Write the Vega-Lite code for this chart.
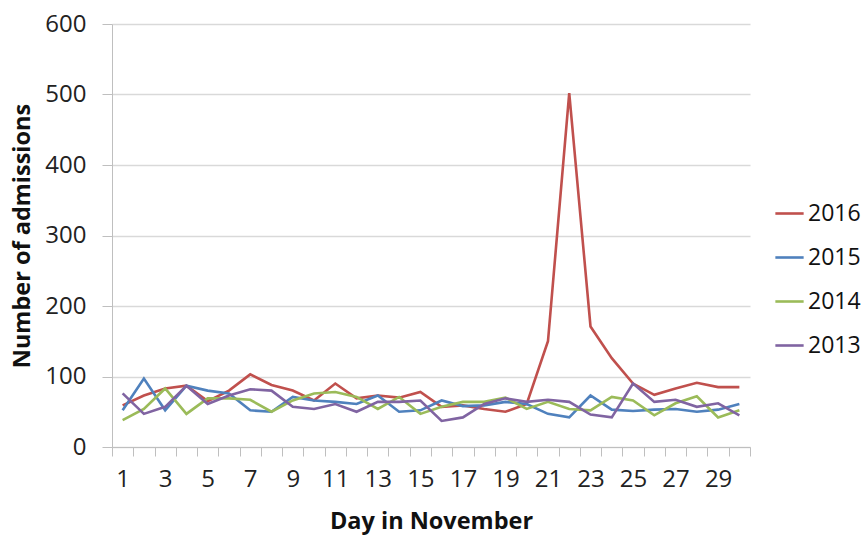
{
  "$schema": "https://vega.github.io/schema/vega-lite/v6.json",
  "width": 638,
  "height": 423,
  "autosize": {"type": "none"},
  "padding": {"left": 112, "top": 24, "right": 116, "bottom": 92},
  "background": "white",
  "config": {
    "view": {"stroke": null},
    "font": "Open Sans",
    "axis": {"labelFont": "Open Sans", "titleFont": "Open Sans", "labelColor": "#222", "titleColor": "#111"}
  },
  "datasets": {
    "adm": [
      {"day": 1, "year": "2016", "n": 59}, {"day": 2, "year": "2016", "n": 73}, {"day": 3, "year": "2016", "n": 83}, {"day": 4, "year": "2016", "n": 87}, {"day": 5, "year": "2016", "n": 65},
      {"day": 6, "year": "2016", "n": 80}, {"day": 7, "year": "2016", "n": 103}, {"day": 8, "year": "2016", "n": 88}, {"day": 9, "year": "2016", "n": 80}, {"day": 10, "year": "2016", "n": 66},
      {"day": 11, "year": "2016", "n": 90}, {"day": 12, "year": "2016", "n": 69}, {"day": 13, "year": "2016", "n": 73}, {"day": 14, "year": "2016", "n": 70}, {"day": 15, "year": "2016", "n": 78},
      {"day": 16, "year": "2016", "n": 57}, {"day": 17, "year": "2016", "n": 59}, {"day": 18, "year": "2016", "n": 54}, {"day": 19, "year": "2016", "n": 50}, {"day": 20, "year": "2016", "n": 61},
      {"day": 21, "year": "2016", "n": 150}, {"day": 22, "year": "2016", "n": 502}, {"day": 23, "year": "2016", "n": 171}, {"day": 24, "year": "2016", "n": 126}, {"day": 25, "year": "2016", "n": 90},
      {"day": 26, "year": "2016", "n": 74}, {"day": 27, "year": "2016", "n": 83}, {"day": 28, "year": "2016", "n": 91}, {"day": 29, "year": "2016", "n": 85}, {"day": 30, "year": "2016", "n": 85},

      {"day": 1, "year": "2015", "n": 52}, {"day": 2, "year": "2015", "n": 97}, {"day": 3, "year": "2015", "n": 52}, {"day": 4, "year": "2015", "n": 87}, {"day": 5, "year": "2015", "n": 80},
      {"day": 6, "year": "2015", "n": 76}, {"day": 7, "year": "2015", "n": 52}, {"day": 8, "year": "2015", "n": 50}, {"day": 9, "year": "2015", "n": 71}, {"day": 10, "year": "2015", "n": 66},
      {"day": 11, "year": "2015", "n": 64}, {"day": 12, "year": "2015", "n": 61}, {"day": 13, "year": "2015", "n": 73}, {"day": 14, "year": "2015", "n": 50}, {"day": 15, "year": "2015", "n": 52},
      {"day": 16, "year": "2015", "n": 66}, {"day": 17, "year": "2015", "n": 58}, {"day": 18, "year": "2015", "n": 59}, {"day": 19, "year": "2015", "n": 64}, {"day": 20, "year": "2015", "n": 61},
      {"day": 21, "year": "2015", "n": 47}, {"day": 22, "year": "2015", "n": 42}, {"day": 23, "year": "2015", "n": 73}, {"day": 24, "year": "2015", "n": 53}, {"day": 25, "year": "2015", "n": 51},
      {"day": 26, "year": "2015", "n": 53}, {"day": 27, "year": "2015", "n": 54}, {"day": 28, "year": "2015", "n": 50}, {"day": 29, "year": "2015", "n": 53}, {"day": 30, "year": "2015", "n": 61},

      {"day": 1, "year": "2014", "n": 38}, {"day": 2, "year": "2014", "n": 54}, {"day": 3, "year": "2014", "n": 83}, {"day": 4, "year": "2014", "n": 47}, {"day": 5, "year": "2014", "n": 69},
      {"day": 6, "year": "2014", "n": 69}, {"day": 7, "year": "2014", "n": 67}, {"day": 8, "year": "2014", "n": 50}, {"day": 9, "year": "2014", "n": 66}, {"day": 10, "year": "2014", "n": 76},
      {"day": 11, "year": "2014", "n": 78}, {"day": 12, "year": "2014", "n": 71}, {"day": 13, "year": "2014", "n": 54}, {"day": 14, "year": "2014", "n": 71}, {"day": 15, "year": "2014", "n": 47},
      {"day": 16, "year": "2014", "n": 57}, {"day": 17, "year": "2014", "n": 64}, {"day": 18, "year": "2014", "n": 64}, {"day": 19, "year": "2014", "n": 70}, {"day": 20, "year": "2014", "n": 54},
      {"day": 21, "year": "2014", "n": 64}, {"day": 22, "year": "2014", "n": 54}, {"day": 23, "year": "2014", "n": 52}, {"day": 24, "year": "2014", "n": 71}, {"day": 25, "year": "2014", "n": 66},
      {"day": 26, "year": "2014", "n": 45}, {"day": 27, "year": "2014", "n": 62}, {"day": 28, "year": "2014", "n": 72}, {"day": 29, "year": "2014", "n": 42}, {"day": 30, "year": "2014", "n": 52},

      {"day": 1, "year": "2013", "n": 76}, {"day": 2, "year": "2013", "n": 47}, {"day": 3, "year": "2013", "n": 57}, {"day": 4, "year": "2013", "n": 87}, {"day": 5, "year": "2013", "n": 61},
      {"day": 6, "year": "2013", "n": 73}, {"day": 7, "year": "2013", "n": 82}, {"day": 8, "year": "2013", "n": 80}, {"day": 9, "year": "2013", "n": 57}, {"day": 10, "year": "2013", "n": 54},
      {"day": 11, "year": "2013", "n": 61}, {"day": 12, "year": "2013", "n": 50}, {"day": 13, "year": "2013", "n": 64}, {"day": 14, "year": "2013", "n": 64}, {"day": 15, "year": "2013", "n": 66},
      {"day": 16, "year": "2013", "n": 37}, {"day": 17, "year": "2013", "n": 42}, {"day": 18, "year": "2013", "n": 61}, {"day": 19, "year": "2013", "n": 69}, {"day": 20, "year": "2013", "n": 64},
      {"day": 21, "year": "2013", "n": 67}, {"day": 22, "year": "2013", "n": 64}, {"day": 23, "year": "2013", "n": 46}, {"day": 24, "year": "2013", "n": 42}, {"day": 25, "year": "2013", "n": 90},
      {"day": 26, "year": "2013", "n": 64}, {"day": 27, "year": "2013", "n": 67}, {"day": 28, "year": "2013", "n": 57}, {"day": 29, "year": "2013", "n": 62}, {"day": 30, "year": "2013", "n": 45}
    ]
  },
  "data": {"name": "adm"},
  "mark": {"type": "line", "strokeWidth": 2.6, "strokeJoin": "miter"},
  "encoding": {
    "x": {
      "field": "day", "type": "ordinal",
      "scale": {"paddingInner": 0, "paddingOuter": 0},
      "axis": {
        "title": "Day in November",
        "titleFontSize": 23.5, "titleFontWeight": "bold", "titlePadding": 18,
        "labelAngle": 0, "labelFontSize": 24, "labelPadding": 11,
        "labelExpr": "datum.value % 2 == 1 ? datum.label : ''",
        "tickBand": "extent", "tickSize": 9, "tickColor": "#BFBFBF", "domainColor": "#BFBFBF",
        "grid": false
      }
    },
    "y": {
      "field": "n", "type": "quantitative",
      "scale": {"domain": [0, 600], "nice": false},
      "axis": {
        "title": "Number of admissions",
        "titleFontSize": 23.5, "titleFontWeight": "bold", "titlePadding": 10,
        "labelFontSize": 24, "labelPadding": 16,
        "values": [0, 100, 200, 300, 400, 500, 600],
        "tickSize": 10, "tickColor": "#BFBFBF", "domainColor": "#BFBFBF",
        "gridColor": "#D9D9D9", "gridWidth": 1.5
      }
    },
    "color": {
      "field": "year", "type": "nominal",
      "scale": {"domain": ["2016", "2015", "2014", "2013"], "range": ["#C0504D", "#4F81BD", "#9BBB59", "#8064A2"]},
      "legend": {
        "title": null, "orient": "none", "legendX": 662, "legendY": 174,
        "symbolType": "stroke", "symbolSize": 800, "symbolStrokeWidth": 2.6,
        "labelFontSize": 23, "labelFont": "Open Sans", "labelColor": "#111", "rowPadding": 16, "labelOffset": 3
      }
    }
  }
}
